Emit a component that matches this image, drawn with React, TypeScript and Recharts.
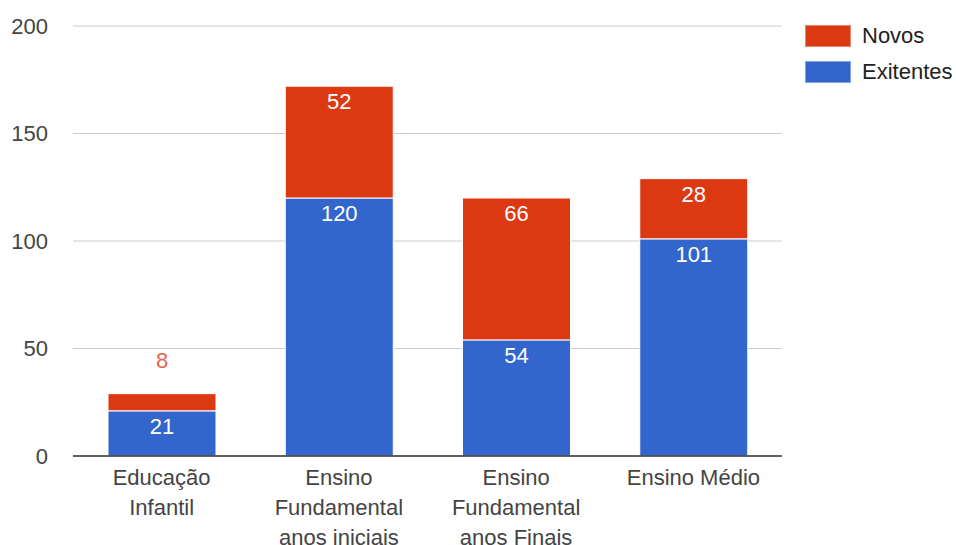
import { BarChart, Bar, XAxis, YAxis, CartesianGrid, LabelList } from 'recharts';

const categories = ['Educação Infantil', 'Ensino Fundamental anos iniciais', 'Ensino Fundamental anos Finais', 'Ensino Médio'];
const existentes = [21, 120, 54, 101];
const novos = [8, 52, 66, 28];
const yTicks = [0, 50, 100, 150, 200];

const data = categories.map((name, i) => ({ name, existentes: existentes[i], novos: novos[i] }));

const FONT = 'Arial, "Liberation Sans", sans-serif';
const FONT_SIZE = 22;
const RED = '#dc3912';
const BLUE = '#3366cc';

let ctx: CanvasRenderingContext2D | null = null;
function measure(s: string) {
  if (!ctx) {
    ctx = document.createElement('canvas').getContext('2d');
    if (ctx) ctx.font = `${FONT_SIZE}px ${FONT}`;
  }
  return ctx ? ctx.measureText(s).width : s.length * FONT_SIZE * 0.55;
}

function wrap(text: string, maxWidth: number) {
  const lines: string[] = [];
  let cur = '';
  for (const w of text.split(' ')) {
    const next = cur ? cur + ' ' + w : w;
    if (cur && measure(next) > maxWidth) {
      lines.push(cur);
      cur = w;
    } else {
      cur = next;
    }
  }
  if (cur) lines.push(cur);
  return lines;
}

const CategoryTick = ({ x, y, payload }: any) => {
  const lines = wrap(payload.value, 145);
  return (
    <text x={x} y={y} textAnchor="middle" fontSize={FONT_SIZE} fontFamily={FONT} fill="#444">
      {lines.map((l, i) => (
        <tspan key={i} x={x} dy={i === 0 ? 15 : 30}>
          {l}
        </tspan>
      ))}
    </text>
  );
};

const SegmentLabel = (props: any) => {
  const { x, y, width, height, value } = props;
  const cx = x + width / 2;
  if (height < 30) {
    return (
      <text x={cx} y={y - 26} textAnchor="middle" fontSize={FONT_SIZE} fontFamily={FONT} fill="#e8664d">
        {value}
      </text>
    );
  }
  return (
    <text x={cx} y={y + 23} textAnchor="middle" fontSize={FONT_SIZE} fontFamily={FONT} fill="#fff">
      {value}
    </text>
  );
};

const legendItems = [
  { label: 'Novos', color: RED },
  { label: 'Exitentes', color: BLUE },
];

export default function App() {
  return (
    <div style={{ position: 'absolute', left: 0, top: 0, width: 956, height: 545, background: '#fff' }}>
      <BarChart
        width={956}
        height={545}
        data={data}
        margin={{ top: 26, right: 174, bottom: 59, left: 0 }}
        barSize={108}
      >
        <CartesianGrid vertical={false} stroke="#ccc" />
        <XAxis
          dataKey="name"
          height={30}
          tick={(p: any) => <CategoryTick {...p} />}
          tickLine={false}
          tickSize={0}
          tickMargin={14}
          axisLine={{ stroke: '#333', strokeWidth: 1.5 }}
          interval={0}
        />
        <YAxis
          width={73}
          domain={[0, 200]}
          ticks={yTicks}
          tickLine={false}
          axisLine={false}
          tickSize={0}
          tickMargin={25}
          tick={{ fontSize: FONT_SIZE, fontFamily: FONT, fill: '#444' }}
        />
        <Bar dataKey="existentes" stackId="a" fill={BLUE} stroke="#fff" strokeWidth={1} isAnimationActive={false}>
          <LabelList dataKey="existentes" content={<SegmentLabel />} />
        </Bar>
        <Bar dataKey="novos" stackId="a" fill={RED} stroke="#fff" strokeWidth={1} isAnimationActive={false}>
          <LabelList dataKey="novos" content={<SegmentLabel />} />
        </Bar>
      </BarChart>
      <div style={{ position: 'absolute', left: 805, top: 25, fontFamily: FONT, fontSize: FONT_SIZE, color: '#222' }}>
        {legendItems.map((item) => (
          <div key={item.label} style={{ display: 'flex', alignItems: 'center', height: 22, marginBottom: 14 }}>
            <div style={{ width: 46, height: 22, background: item.color, boxSizing: 'border-box', border: '1px solid rgba(255,255,255,0.4)' }} />
            <span style={{ marginLeft: 11, lineHeight: '22px', whiteSpace: 'nowrap' }}>{item.label}</span>
          </div>
        ))}
      </div>
    </div>
  );
}
